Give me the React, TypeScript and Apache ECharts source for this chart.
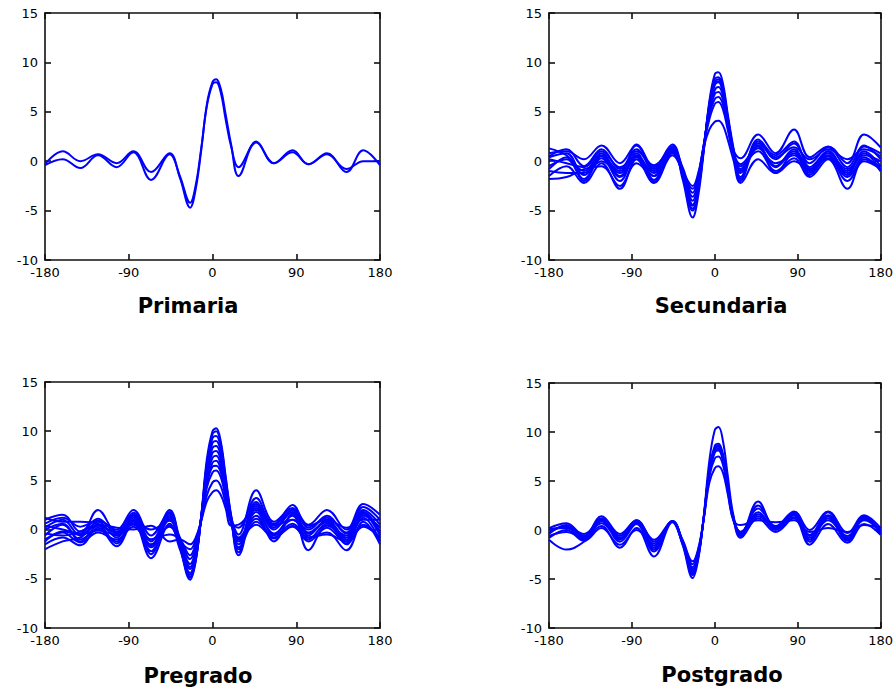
import React, { useEffect, useRef } from "react";
import * as echarts from "echarts";

const lags = [-180, -161, -142, -123, -103, -85, -66, -46, -35, -24, -18, -12, -6, 0, 4, 9, 14, 20, 28, 47, 66, 86, 103, 123, 144, 162, 180];

const panelTitles = ["Primaria", "Secundaria", "Pregrado", "Postgrado"];

// Primaria: 2 curves
const primaria = [
  [-0.3, 1.0, 0.0, 0.7, -0.2, 1.0, -1.1, 0.8, -1.7, -4.7, -2.8, 1.2, 5.8, 8.0, 8.3, 7.3, 4.8, 1.7, -1.5, 2.0, -0.2, 1.1, -0.3, 0.8, -1.1, 1.1, -0.4],
  [-0.4, 0.2, -0.7, 0.6, -0.6, 0.9, -1.9, 0.7, -1.5, -4.2, -2.4, 1.4, 5.6, 7.8, 8.0, 6.9, 4.3, 1.5, -0.6, 1.9, -0.2, 0.9, -0.3, 0.7, -0.8, 0.0, 0.0],
];

// Secundaria
const secundaria = [
  [0.5, 1.2, -0.5, 1.2, -0.8, 1.2, -1.0, 1.5, -1.8, -5.7, -3.5, 1.0, 6.0, 8.8, 9.0, 7.8, 4.8, 1.5, -2.0, 1.6, -0.5, 1.2, -0.8, 1.0, -1.2, 1.0, -0.5],
  [1.3, 0.6, -1.0, 0.8, -1.5, 0.6, -1.5, 1.2, -1.5, -5.0, -3.0, 1.2, 5.8, 8.3, 8.5, 7.4, 4.5, 1.3, -1.6, 2.0, 0.2, 1.8, -0.2, 1.4, -0.6, 1.5, 0.8],
  [-0.5, 0.2, -1.8, 0.3, -2.0, 0.8, -1.9, 0.9, -1.2, -4.4, -2.6, 1.4, 5.5, 7.7, 8.0, 6.9, 4.2, 1.2, -1.2, 1.3, -0.2, 0.6, -1.0, 0.6, -1.6, 0.4, -1.0],
  [-1.5, -0.5, -2.2, -0.2, -2.8, 0.2, -2.2, 0.6, -1.0, -4.0, -2.2, 1.5, 5.2, 7.2, 7.5, 6.6, 4.0, 1.0, -0.5, 1.0, -1.0, 0.3, -1.6, 0.2, -2.8, 0.2, -0.6],
  [0.8, 1.0, 0.2, 1.6, -0.2, 1.6, -0.6, 1.7, -0.8, -3.6, -2.0, 1.6, 5.0, 6.8, 7.0, 6.2, 3.8, 1.2, 0.3, 2.7, 0.8, 3.2, 0.4, 1.5, -0.2, 2.7, 1.4],
  [-1.0, -1.2, -1.2, 0.5, -1.0, 1.0, -0.4, 1.3, -0.6, -3.2, -1.6, 1.7, 4.7, 6.3, 6.5, 5.7, 3.5, 0.9, -0.3, 1.5, -1.2, 0.8, -1.2, 0.8, -0.8, 0.6, 0.0],
  [0.2, -0.2, -0.6, 1.0, -0.6, 0.5, -1.2, 1.0, -1.0, -2.8, -1.4, 1.6, 4.2, 5.8, 6.0, 5.2, 3.2, 0.8, -0.8, 1.8, 0.4, 1.4, 0.2, 1.2, 0.2, 1.2, 0.5],
  [-1.8, -1.6, -0.8, -0.5, -2.5, -0.2, -1.5, 0.8, -1.0, -2.5, -1.2, 1.4, 3.2, 4.0, 4.1, 3.6, 2.2, 0.2, -2.2, 0.2, -1.2, 0.0, -0.8, 0.3, -1.0, 0.8, -1.0],
  [0.4, 0.8, -1.4, 0.0, -1.2, 1.7, -0.8, 1.5, -1.4, -4.8, -2.8, 1.2, 5.6, 8.0, 8.3, 7.2, 4.4, 1.2, -1.8, 2.2, 0.6, 2.0, -0.6, 1.0, -1.4, 1.6, 0.2],
  [-0.8, 0.4, -2.0, 0.6, -1.6, 0.4, -2.1, 1.1, -1.2, -4.5, -2.7, 1.3, 5.4, 7.9, 8.1, 7.0, 4.3, 1.1, -1.0, 1.6, -0.6, 1.0, -1.4, 0.5, -2.0, 0.0, -0.8],
];

// Pregrado
const pregrado = [
  [0.2, 1.0, -0.6, 0.8, -0.8, 1.4, -1.6, 1.6, -1.8, -5.1, -3.2, 1.5, 7.2, 10.0, 10.3, 8.9, 5.5, 1.5, -2.0, 2.6, 0.0, 1.8, -0.6, 1.0, -1.0, 2.0, 0.5],
  [1.0, 1.5, -0.2, 1.1, -0.4, 1.7, -1.2, 2.0, -1.5, -4.8, -3.0, 1.4, 6.8, 9.3, 9.5, 8.2, 5.0, 1.2, -2.6, 2.2, -0.5, 1.4, -1.0, 0.6, -1.5, 1.6, -0.6],
  [-1.5, -0.8, -1.6, 0.2, -1.7, 0.8, -2.9, 0.6, -2.0, -4.6, -2.8, 1.3, 6.4, 8.8, 9.0, 7.8, 4.8, 1.2, -1.5, 2.8, 0.5, 2.5, 0.2, 1.2, -0.3, 2.3, 1.0],
  [-0.6, 0.5, -1.0, 0.0, -1.2, 1.0, -2.2, 1.2, -1.6, -4.4, -2.6, 1.3, 6.0, 8.3, 8.5, 7.4, 4.6, 1.1, -1.2, 1.8, -0.4, 1.0, -0.4, 0.8, -1.2, 1.2, -1.2],
  [0.6, 1.2, 0.3, 0.9, 0.0, 2.0, -0.6, 1.8, -1.0, -4.0, -2.4, 1.4, 5.8, 7.8, 8.0, 7.0, 4.3, 1.3, -0.5, 4.0, 0.8, 2.2, 0.5, 2.0, 0.0, 2.6, 1.5],
  [-1.0, -0.3, -1.3, -0.3, -1.0, 0.3, -1.5, 0.4, -1.4, -3.8, -2.2, 1.4, 5.4, 7.3, 7.5, 6.5, 4.0, 1.0, -0.8, 1.4, -1.2, 1.6, -2.1, 0.4, -0.6, 1.8, -0.4],
  [-2.0, -1.2, -0.8, 0.5, -0.6, 1.2, -1.8, 1.0, -1.2, -3.5, -2.0, 1.2, 5.0, 6.8, 7.0, 6.1, 3.8, 0.9, -1.8, 0.8, -0.6, 0.6, -0.8, -0.3, -2.1, 0.8, -1.5],
  [0.4, 0.0, -0.4, 2.0, -0.2, 0.9, 0.0, 0.9, -0.8, -3.0, -1.8, 1.0, 4.3, 5.8, 6.0, 5.3, 3.3, 0.8, 0.2, 3.2, 0.4, 1.0, 0.0, 1.4, -0.4, 1.4, 0.2],
  [-0.4, -0.6, -0.2, 0.5, 0.2, 0.0, 0.4, -1.2, -1.0, -1.5, -0.8, 1.0, 3.5, 4.8, 5.0, 4.4, 2.7, 0.6, -0.9, 0.5, -0.8, 0.3, -0.8, -0.5, -1.2, 0.3, -0.8],
  [1.2, 0.8, 0.8, 0.6, -0.3, 0.5, -1.0, 0.3, -1.2, -2.0, -1.0, 0.9, 2.9, 3.8, 4.0, 3.5, 2.2, 0.4, 0.5, 2.0, 0.6, 2.0, 0.4, 1.0, 0.2, 1.0, 1.0],
  [0.0, 0.6, -1.2, 0.4, -1.4, 1.5, -2.5, 1.4, -1.7, -4.9, -3.1, 1.4, 6.6, 9.7, 10.0, 8.6, 5.3, 1.3, -2.3, 2.4, 0.2, 2.0, -0.3, 0.8, -0.8, 1.8, -0.2],
  [-1.2, -0.2, -0.5, -0.1, -0.5, 0.6, -1.0, -0.5, -1.0, -2.6, -1.4, 1.1, 4.6, 6.4, 6.5, 5.8, 3.6, 0.9, -1.0, 1.1, -0.9, 0.4, -1.2, 0.2, -1.4, 0.5, -0.9],
];

// Postgrado
const postgrado = [
  [-0.4, 0.5, -0.9, 1.2, -1.0, 0.8, -1.8, 0.9, -1.5, -4.9, -3.0, 1.4, 7.0, 10.2, 10.5, 9.0, 5.6, 1.6, -0.6, 2.9, 0.2, 1.8, -0.6, 1.8, -0.8, 1.4, -0.2],
  [0.2, 0.7, -0.6, 1.4, -0.4, 1.0, -1.2, 0.9, -1.3, -4.4, -2.7, 1.3, 6.2, 8.6, 8.8, 7.7, 4.8, 1.4, -0.3, 2.2, 0.4, 1.9, 0.0, 1.9, -0.3, 1.5, 0.2],
  [-1.0, -2.0, -1.2, 0.4, -1.8, 0.2, -2.7, 0.8, -1.4, -4.2, -2.6, 1.3, 6.0, 8.3, 8.5, 7.4, 4.6, 1.3, -0.8, 1.2, -0.2, 1.2, -1.5, 0.6, -1.3, 0.6, -0.5],
  [-0.6, -0.2, -0.8, 0.9, -1.2, 0.6, -2.2, 0.9, -1.2, -3.8, -2.3, 1.2, 5.9, 8.1, 8.3, 7.2, 4.5, 1.2, -0.5, 1.6, 0.0, 1.5, -0.8, 1.0, -0.6, 1.0, 0.0],
  [0.0, 0.3, -0.4, 1.0, -0.6, 1.0, -1.0, 0.9, -1.1, -3.5, -2.1, 1.2, 5.4, 7.3, 7.5, 6.6, 4.1, 1.1, 0.5, 1.0, 0.8, 1.0, -0.2, 0.2, -0.2, 0.5, 0.2],
  [-0.8, 0.0, -1.1, 0.2, -1.5, 0.0, -1.4, 0.9, -1.0, -3.2, -1.9, 1.1, 4.8, 6.3, 6.5, 5.8, 3.7, 1.0, -0.2, 1.8, 0.1, 1.6, -1.2, 1.2, -1.0, 1.2, -0.4],
  [-0.3, 0.4, -0.7, 0.7, -0.9, 0.7, -1.6, 0.9, -1.3, -4.6, -2.8, 1.3, 6.1, 8.4, 8.6, 7.5, 4.7, 1.3, -0.4, 2.5, 0.3, 1.7, -0.5, 1.5, -0.9, 1.3, -0.3],
  [0.1, 0.2, -1.0, 1.1, -0.8, 0.9, -2.0, 0.9, -1.4, -4.0, -2.5, 1.2, 5.7, 7.9, 8.1, 7.0, 4.4, 1.2, -0.2, 1.4, 0.2, 1.3, -1.0, 1.4, -1.1, 1.1, -0.1],
];

const panels = [primaria, secundaria, pregrado, postgrado];

// Layout (pixels)
const gridBoxes = [
  { left: 45, top: 13, width: 335, height: 247 },
  { left: 549, top: 13, width: 334, height: 247 },
  { left: 45, top: 382, width: 335, height: 246 },
  { left: 549, top: 383, width: 334, height: 245 },
];
const titlePos = [
  { x: 188, y: 306 },
  { x: 721, y: 306 },
  { x: 198, y: 676 },
  { x: 722, y: 675 },
];

export default function App() {
  const ref = useRef<HTMLDivElement>(null);

  useEffect(() => {
    if (!ref.current) return;
    const chart = echarts.init(ref.current, undefined, { renderer: "svg" });

    const axisLineStyle = { color: "#111", width: 1.6 };
    const labelStyle = { color: "#000", fontSize: 13, fontFamily: "DejaVu Sans" };

    const grid: any[] = [];
    const xAxis: any[] = [];
    const yAxis: any[] = [];
    const series: any[] = [];

    gridBoxes.forEach((g, i) => {
      grid.push({ ...g, containLabel: false, show: false });
      const xBase = {
        gridIndex: i,
        type: "value",
        min: -180,
        max: 180,
        interval: 90,
        splitLine: { show: false },
        axisLine: { show: true, onZero: false, lineStyle: axisLineStyle },
        axisTick: { show: true, inside: true, length: 6, lineStyle: axisLineStyle },
      };
      xAxis.push({
        ...xBase,
        position: "bottom",
        axisLabel: { ...labelStyle, margin: 6, showMinLabel: true, showMaxLabel: true },
      });
      xAxis.push({ ...xBase, position: "top", axisLabel: { show: false } });
      const yBase = {
        gridIndex: i,
        type: "value",
        min: -10,
        max: 15,
        interval: 5,
        splitLine: { show: false },
        axisLine: { show: true, onZero: false, lineStyle: axisLineStyle },
        axisTick: { show: true, inside: true, length: 6, lineStyle: axisLineStyle },
      };
      yAxis.push({
        ...yBase,
        position: "left",
        axisLabel: { ...labelStyle, margin: 7, showMinLabel: true, showMaxLabel: true },
      });
      yAxis.push({ ...yBase, position: "right", axisLabel: { show: false } });

      panels[i].forEach((line) => {
        series.push({
          type: "line",
          xAxisIndex: 2 * i,
          yAxisIndex: 2 * i,
          data: lags.map((x, k) => [x, line[k]]),
          showSymbol: false,
          smooth: 0.4,
          silent: true,
          lineStyle: { color: "#0000ff", width: 2 },
        });
      });
    });

    const graphic = panelTitles.map((t, i) => ({
      type: "text",
      x: titlePos[i].x,
      y: titlePos[i].y,
      style: {
        text: t,
        fill: "#000",
        font: "bold 21px 'DejaVu Sans'",
        textAlign: "center",
        textVerticalAlign: "middle",
      },
    }));

    chart.setOption({
      animation: false,
      backgroundColor: "#fff",
      grid,
      xAxis,
      yAxis,
      series,
      graphic,
    });

    return () => chart.dispose();
  }, []);

  return (
    <div
      ref={ref}
      style={{ position: "fixed", left: 0, top: 0, width: 896, height: 691, background: "#fff" }}
    />
  );
}
